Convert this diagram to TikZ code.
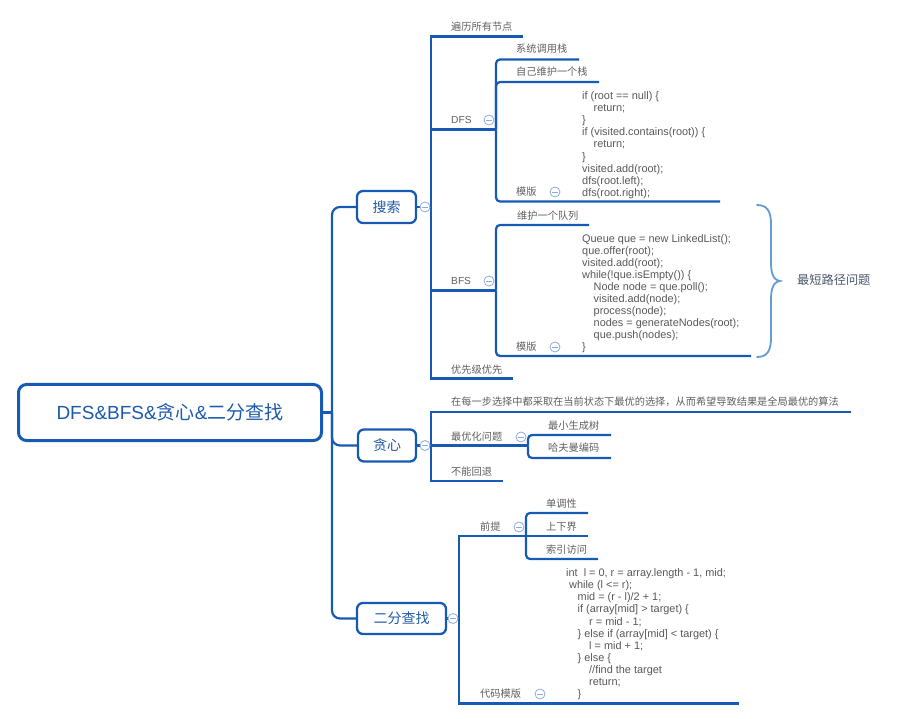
\documentclass[tikz,border=0pt]{standalone}
\usepackage{fontspec}
\setmainfont{Liberation Sans}
\newfontfamily\cjk{Noto Sans CJK SC}
\definecolor{mainblue}{RGB}{22,90,180}
\definecolor{boxtext}{RGB}{30,90,170}
\definecolor{lblgray}{RGB}{95,95,95}
\definecolor{codegray}{RGB}{88,88,88}
\definecolor{foldblue}{RGB}{140,170,225}
\definecolor{bracecol}{RGB}{100,155,215}
\definecolor{notegray}{RGB}{75,85,105}
\pgfdeclarelayer{background}
\pgfsetlayers{background,main}
\begin{document}
\begin{tikzpicture}[x=1pt,y=-1pt,
  conn/.style={draw=mainblue, line width=2.2pt},
  lbl/.style={anchor=west, inner sep=0pt, text=lblgray, font=\cjk\fontsize{10.2}{12}\selectfont, text height=9pt, text depth=1.2pt},
  lbllat/.style={lbl, font=\fontsize{10.2}{12}\selectfont},
  codeln/.style={anchor=west, inner sep=0pt, text=codegray, font=\fontsize{10.9}{12}\selectfont, text height=8pt, text depth=0.8pt},
  topic/.style={draw=mainblue, line width=2.3pt, rounded corners=6pt, fill=white, text=boxtext, font=\cjk\fontsize{14}{16}\selectfont, inner sep=0pt},
  rootbox/.style={draw=mainblue, line width=3pt, rounded corners=8pt, minimum width=303pt, minimum height=56pt,
      text=boxtext, inner sep=0pt, fill=white, font=\fontsize{19}{22}\selectfont},
  fold/.style={circle, draw=foldblue, fill=white, line width=0.8pt, minimum size=10pt, inner sep=0pt,
    path picture={\draw[foldblue, line width=0.8pt] ([xshift=-2.6pt]path picture bounding box.center) -- ([xshift=2.6pt]path picture bounding box.center);}}
]
\useasboundingbox (0,0) rectangle (900,719);

% ---------- level 0 / 1 ----------
\coordinate (hub) at (332,412.5);
\node[rootbox] (root) at (170,412.5) {DFS\&BFS\&{\cjk 贪心}\&{\cjk 二分查找}};

\node[topic, minimum width=59pt, minimum height=32pt] (search) at (386.5,207) {搜索};
\node[topic, minimum width=58pt, minimum height=32pt] (greedy) at (387,445.5) {贪心};
\node[topic, minimum width=89pt, minimum height=31pt] (bs) at (401.5,618.5) {二分查找};

\begin{pgfonlayer}{background}
\draw[conn] (root.east) -- (hub);
\draw[conn, rounded corners=8pt] (hub) |- (search.west);
\draw[conn, rounded corners=8pt] (hub) |- (greedy.west);
\draw[conn, rounded corners=8pt] (hub) |- (bs.west);
\end{pgfonlayer}

% ---------- search ----------
\coordinate (sj) at (431,207);
\draw[conn] (search.east) -- (sj);
\coordinate (bl-end) at (523,36.5);
\coordinate (dfsj) at (496,129.5);
\coordinate (bfsj) at (496,290.5);
\coordinate (yx-end) at (513,378.5);
\draw[conn] (sj) |- (bl-end);
\draw[conn] (sj) |- (dfsj);
\draw[conn] (sj) |- (bfsj);
\draw[conn] (sj) |- (yx-end);

\coordinate (xt-end) at (579,59.5);
\coordinate (zj-end) at (599,82);
\coordinate (dmb-end) at (720,201.5);
\draw[conn, rounded corners=4pt] (dfsj) |- (xt-end);
\draw[conn, rounded corners=4pt] (dfsj) |- (zj-end);
\draw[conn, rounded corners=4pt] (dfsj) |- (dmb-end);

\coordinate (dl-end) at (589,225);
\coordinate (bmb-end) at (751,356);
\draw[conn, rounded corners=4pt] (bfsj) |- (dl-end);
\draw[conn, rounded corners=4pt] (bfsj) |- (bmb-end);

\node[lbl] (l-bl) at (451,26.5) {遍历所有节点};
\node[lbllat] (l-dfs) at (451,120) {DFS};
\node[lbllat] (l-bfs) at (451,281) {BFS};
\node[lbl] (l-yx) at (451,370) {优先级优先};
\node[lbl] (l-xt) at (516,49) {系统调用栈};
\node[lbl] (l-zj) at (516,72) {自己维护一个栈};
\node[lbl] (l-dmb) at (516,192) {模版};
\node[lbl] (l-dl) at (517,216) {维护一个队列};
\node[lbl] (l-bmb) at (516,347) {模版};

\node[fold] (f-search) at (425,207) {};
\node[fold] (f-dfs) at (489,120) {};
\node[fold] (f-bfs) at (489,281) {};
\node[fold] (f-dmb) at (555,192) {};
\node[fold] (f-bmb) at (555,347) {};

\foreach \t [count=\i] in {
  {if (root == null) \{},
  {\hspace*{11.5pt}return;},
  {\}},
  {if (visited.contains(root)) \{},
  {\hspace*{11.5pt}return;},
  {\}},
  {visited.add(root);},
  {dfs(root.left);},
  {dfs(root.right);}}
  \node[codeln] (dfscode-\i) at (582,{96+12.1*(\i-1)}) {\t};

\foreach \t [count=\i] in {
  {Queue que = new LinkedList();},
  {que.offer(root);},
  {visited.add(root);},
  {while(!que.isEmpty()) \{},
  {\hspace*{11.5pt}Node node = que.poll();},
  {\hspace*{11.5pt}visited.add(node);},
  {\hspace*{11.5pt}process(node);},
  {\hspace*{11.5pt}nodes = generateNodes(root);},
  {\hspace*{11.5pt}que.push(nodes);},
  {\}}}
  \node[codeln] (bfscode-\i) at (582,{239+12*(\i-1)}) {\t};

% brace
\draw[bracecol, line width=1.8pt, line cap=round]
  (757,205) .. controls (767,205) and (771,211) .. (771,224) -- (771,262)
  .. controls (771,273) and (773,280) .. (780,281)
  .. controls (773,282) and (771,289) .. (771,300) -- (771,338)
  .. controls (771,351) and (767,357) .. (757,357);
\node[lbl, text=notegray, font=\cjk\fontsize{12.2}{14}\selectfont] (l-short) at (797,281) {最短路径问题};

% ---------- greedy ----------
\coordinate (gj) at (431,445.5);
\draw[conn] (greedy.east) -- (gj);
\coordinate (tx-end) at (851,412);
\coordinate (optj) at (528,445.5);
\coordinate (bn-end) at (503,481);
\draw[conn] (gj) |- (tx-end);
\draw[conn] (gj) -- (optj);
\draw[conn] (gj) |- (bn-end);
\coordinate (mst-end) at (611,435);
\coordinate (hf-end) at (611,458);
\draw[conn, rounded corners=4pt] (optj) |- (mst-end);
\draw[conn, rounded corners=4pt] (optj) |- (hf-end);

\node[lbl] (l-tx) at (451,402) {在每一步选择中都采取在当前状态下最优的选择，从而希望导致结果是全局最优的算法};
\node[lbl] (l-opt) at (451,437) {最优化问题};
\node[lbl] (l-bn) at (451,472) {不能回退};
\node[lbl] (l-mst) at (548,426) {最小生成树};
\node[lbl] (l-hf) at (548,448) {哈夫曼编码};
\node[fold] (f-greedy) at (425,445.5) {};
\node[fold] (f-opt) at (521,437) {};

% ---------- binary search ----------
\coordinate (bj) at (459,618.5);
\draw[conn] (bs.east) -- (bj);
\coordinate (pj) at (526,536);
\coordinate (dm-end) at (739,703.5);
\draw[conn] (bj) |- (pj);
\draw[conn] (bj) |- (dm-end);
\coordinate (dd-end) at (588,513);
\coordinate (sx-end) at (588,536);
\coordinate (sy-end) at (598,559);
\draw[conn, rounded corners=4pt] (pj) |- (dd-end);
\draw[conn] (pj) -- (sx-end);
\draw[conn, rounded corners=4pt] (pj) |- (sy-end);

\node[lbl] (l-pre) at (480,527) {前提};
\node[lbl] (l-dm) at (480,694) {代码模版};
\node[lbl] (l-dd) at (546,504) {单调性};
\node[lbl] (l-sx) at (546,527) {上下界};
\node[lbl] (l-sy) at (546,550) {索引访问};
\node[fold] (f-bs) at (453,618.5) {};
\node[fold] (f-pre) at (519,527) {};
\node[fold] (f-dm) at (540,694) {};

\foreach \t [count=\i] in {
  {int\ \ l = 0, r = array.length - 1, mid;},
  {\hspace*{3pt}while (l <= r);},
  {\hspace*{11.5pt}mid = (r - l)/2 + 1;},
  {\hspace*{11.5pt}if (array[mid] > target) \{},
  {\hspace*{23pt}r = mid - 1;},
  {\hspace*{11.5pt}\} else if (array[mid] < target) \{},
  {\hspace*{23pt}l = mid + 1;},
  {\hspace*{11.5pt}\} else \{},
  {\hspace*{23pt}//find the target},
  {\hspace*{23pt}return;},
  {\hspace*{11.5pt}\}}}
  \node[codeln] (bscode-\i) at (566,{573+12.1*(\i-1)}) {\t};
\end{tikzpicture}
\end{document}
